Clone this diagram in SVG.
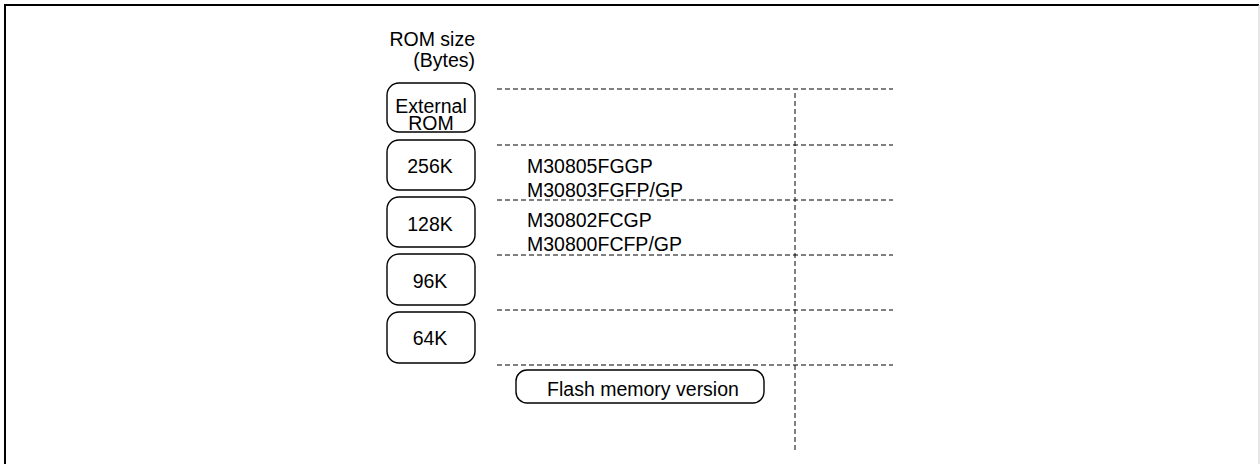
<svg xmlns="http://www.w3.org/2000/svg" width="1260" height="464" viewBox="0 0 1260 464">
<style>
text{font-family:"Liberation Sans",Arial,sans-serif;font-size:19.5px;fill:#000}
.box{fill:#fff;stroke:#000;stroke-width:1.4}
.dash{stroke:#000;stroke-width:1;stroke-dasharray:5 3;fill:none}
</style>
<rect x="0" y="0" width="1260" height="464" fill="#fff"/>
<line x1="4" y1="5" x2="1259" y2="5" stroke="#000" stroke-width="2"/>
<line x1="5" y1="4" x2="5" y2="464" stroke="#000" stroke-width="2"/>
<line x1="1259" y1="5" x2="1259" y2="464" stroke="#ccc" stroke-width="1"/>
<text x="475" y="46" text-anchor="end">ROM size</text>
<text x="475" y="67" text-anchor="end">(Bytes)</text>
<g id="connectors">
<line class="dash" x1="497" y1="89" x2="893" y2="89"/>
<line class="dash" x1="497" y1="145" x2="893" y2="145"/>
<line class="dash" x1="497" y1="200" x2="893" y2="200"/>
<line class="dash" x1="497" y1="255" x2="893" y2="255"/>
<line class="dash" x1="497" y1="310" x2="893" y2="310"/>
<line class="dash" x1="497" y1="365" x2="893" y2="365"/>
<line class="dash" x1="795" y1="93" x2="795" y2="450"/>
</g>
<g id="ext"><rect class="box" x="387" y="83" width="88" height="49" rx="12"/><text x="431" y="112.5" text-anchor="middle">External</text><text x="431" y="130" text-anchor="middle">ROM</text></g>
<g id="k256"><rect class="box" x="387" y="140" width="88" height="50" rx="12"/><text x="430" y="173" text-anchor="middle">256K</text></g>
<g id="k128"><rect class="box" x="387" y="197" width="88" height="50" rx="12"/><text x="430" y="231" text-anchor="middle">128K</text></g>
<g id="k96"><rect class="box" x="387" y="254" width="88" height="51" rx="12"/><text x="430" y="288" text-anchor="middle">96K</text></g>
<g id="k64"><rect class="box" x="387" y="312" width="88" height="51" rx="12"/><text x="430" y="345" text-anchor="middle">64K</text></g>
<g id="parts">
<text x="527" y="173">M30805FGGP</text>
<text x="527" y="197">M30803FGFP/GP</text>
<text x="527" y="227">M30802FCGP</text>
<text x="527" y="251">M30800FCFP/GP</text>
</g>
<g id="flash"><rect class="box" x="516" y="370" width="248" height="33" rx="11"/><text x="643" y="396" text-anchor="middle">Flash memory version</text></g>
</svg>
